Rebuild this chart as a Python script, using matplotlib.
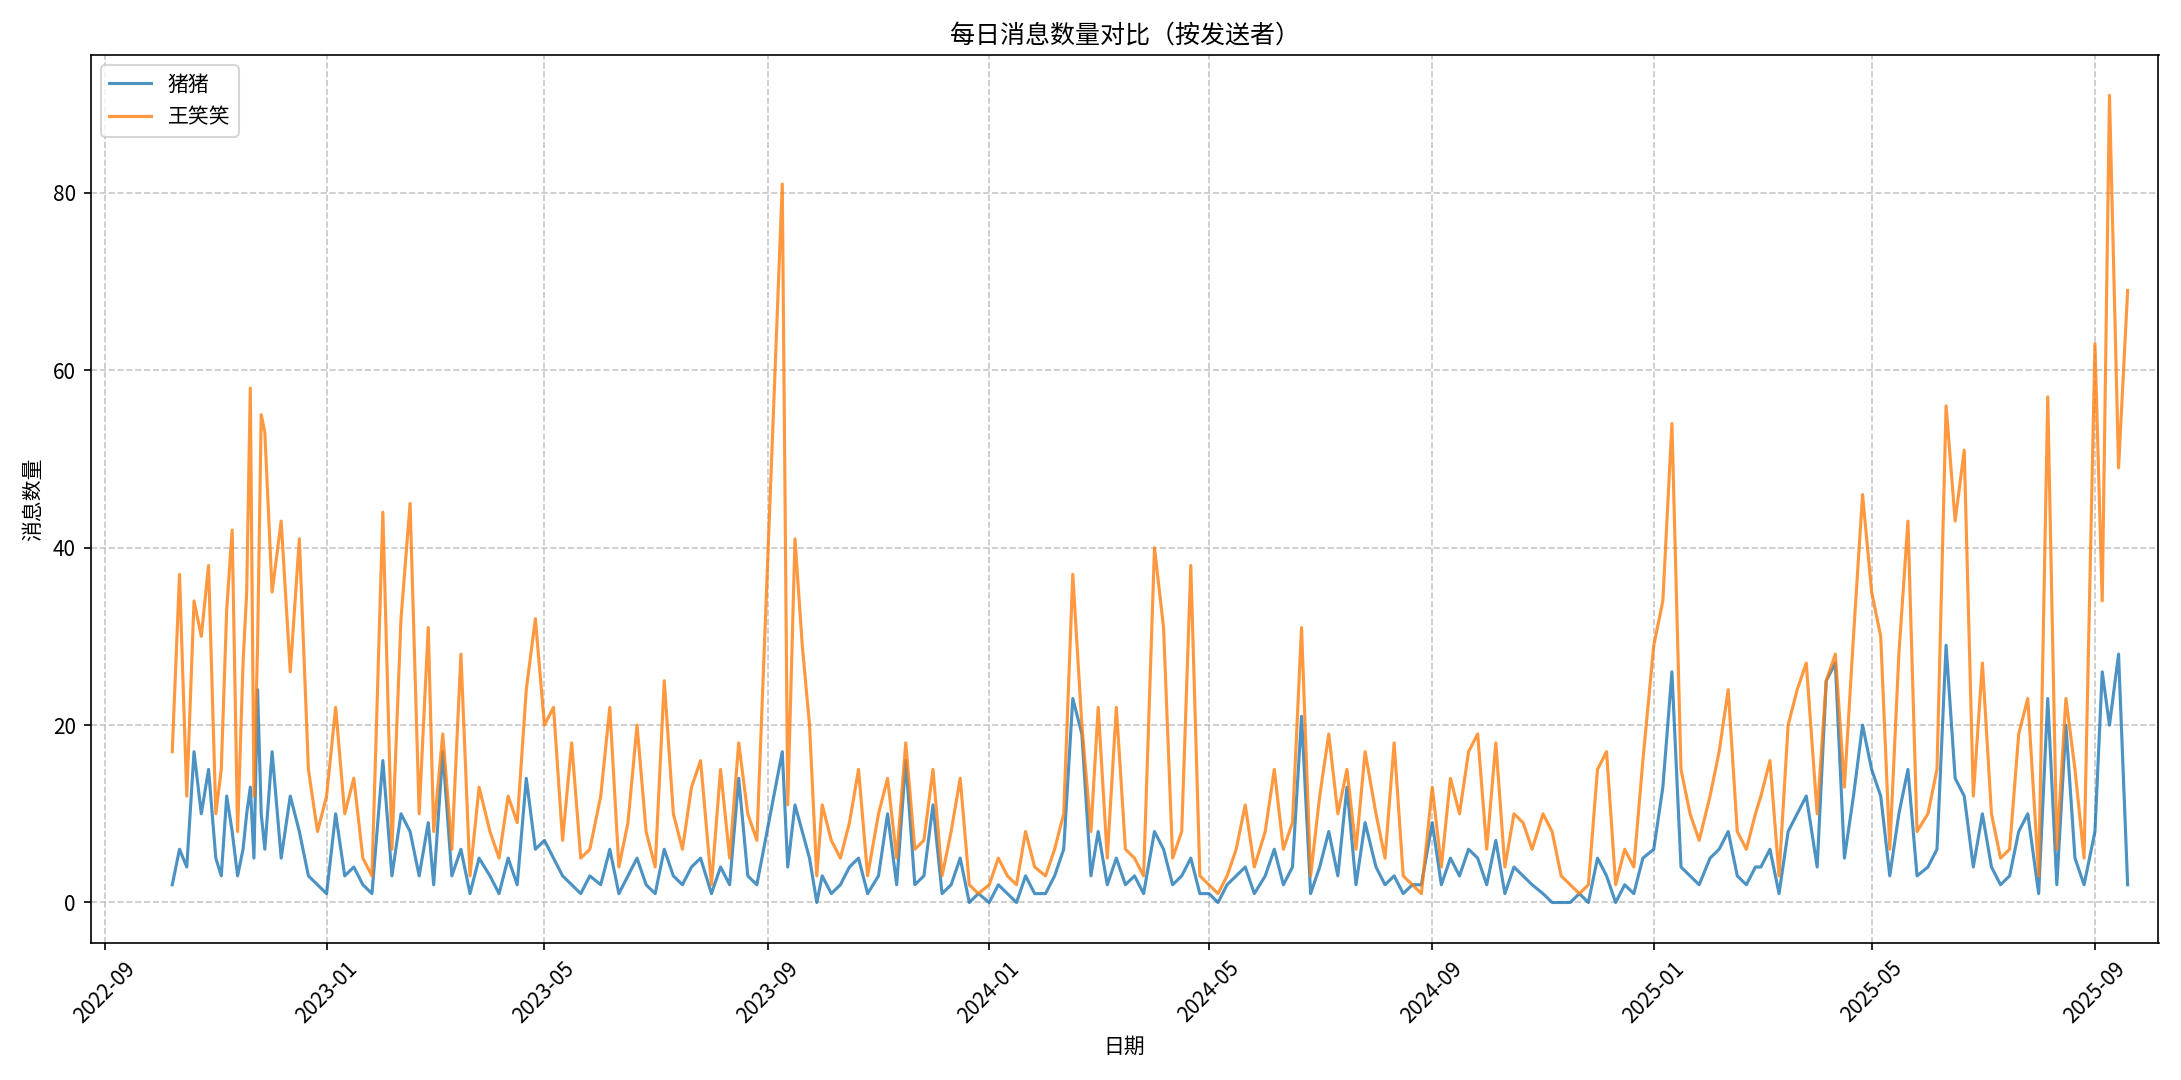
import matplotlib
matplotlib.use("Agg")
import matplotlib.pyplot as plt
import matplotlib.dates as mdates
import pandas as pd

plt.rcParams['font.family'] = ['Noto Sans CJK SC', 'DejaVu Sans']
plt.rcParams['axes.unicode_minus'] = False

wang = [17,37,12,34,30,38, 10,15,33,42,8,27, 35,58,12,29,55,53, 35,43,26,41,15,8,
        12,22,10,14,5,3, 44,6,32,45,10,31, 8,19,6,28,3,13, 8,5,12,9,24,32,
        20,22,7,18,5,6, 12,22,4,9,20,8, 4,25,10,6,13,16, 2,15,5,18,10,7,
        81,11,41,29,20,3, 11,7,5,9,15,3, 10,14,5,18,6,7, 15,3,8,14,2,1,
        2,5,3,2,8,4, 3,6,10,37,20,8, 22,5,22,6,5,3, 40,31,5,8,38,3,
        2,1,3,6,11,4, 8,15,6,9,31,3, 12,19,10,15,6,17, 10,5,18,3,2,1,
        13,4,14,10,17,19, 6,18,4,10,9,6, 10,8,3,2,1,2, 15,17,2,6,4,16,
        29,34,54,15,10,7, 12,17,24,8,6,10, 12,16,3,20,24,27, 10,25,28,13,30,46,
        35,30,6,28,43,8, 10,15,56,43,51,12, 27,10,5,6,19,23, 3,57,6,23,15,5,
        63,34,91,49,69]

zhu = [2,6,4,17,10,15, 5,3,12,8,3,6, 10,13,5,24,10,6, 17,5,12,8,3,2,
       1,10,3,4,2,1, 16,3,10,8,3,9, 2,17,3,6,1,5, 3,1,5,2,14,6,
       7,5,3,2,1,3, 2,6,1,3,5,2, 1,6,3,2,4,5, 1,4,2,14,3,2,
       17,4,11,8,5,0, 3,1,2,4,5,1, 3,10,2,16,2,3, 11,1,2,5,0,1,
       0,2,1,0,3,1, 1,3,6,23,19,3, 8,2,5,2,3,1, 8,6,2,3,5,1,
       1,0,2,3,4,1, 3,6,2,4,21,1, 4,8,3,13,2,9, 4,2,3,1,2,2,
       9,2,5,3,6,5, 2,7,1,4,3,2, 1,0,0,0,1,0, 5,3,0,2,1,5,
       6,13,26,4,3,2, 5,6,8,3,2,4, 4,6,1,8,10,12, 4,25,27,5,12,20,
       15,12,3,10,15,3, 4,6,29,14,12,4, 10,4,2,3,8,10, 1,23,2,20,5,2,
       8,26,20,28,2]

# sample dates: (year, month, days) groups matching the value groups above
std_days = [1, 6, 11, 16, 21, 26]
groups = [(2022, 10, [8, 12, 16, 20, 24, 28]),
          (2022, 11, [1, 4, 7, 10, 13, 16]),
          (2022, 11, [18, 20, 22, 24, 26, 28]),
          (2022, 12, [2, 7, 12, 17, 22, 27])]
for y in (2023, 2024):
    for m in range(1, 13):
        d = [9, 12, 16, 20, 24, 28] if (y, m) == (2023, 9) else std_days
        groups.append((y, m, d))
for m in range(1, 9):
    groups.append((2025, m, std_days))
groups.append((2025, 9, [1, 5, 9, 14, 19]))
dates = [pd.Timestamp(y, m, d) for y, m, ds in groups for d in ds]

fig, ax = plt.subplots(figsize=(14.54, 7.2), dpi=150)
ax.plot(dates, zhu, color='#1f77b4', alpha=0.8, lw=1.5, label='猪猪')
ax.plot(dates, wang, color='#ff7f0e', alpha=0.8, lw=1.5, label='王笑笑')
ax.set_title('每日消息数量对比（按发送者）')
ax.set_xlabel('日期')
ax.set_ylabel('消息数量')
ax.grid(True, linestyle='--', alpha=0.7)
ax.legend(loc='upper left')
ax.xaxis.set_major_locator(mdates.MonthLocator(bymonth=[1, 5, 9]))
ax.xaxis.set_major_formatter(mdates.DateFormatter('%Y-%m'))
ax.set_xlim(pd.Timestamp('2022-08-24'), pd.Timestamp('2025-10-06'))
plt.setp(ax.get_xticklabels(), rotation=45)
plt.tight_layout()
plt.savefig('out.png', dpi=150)
